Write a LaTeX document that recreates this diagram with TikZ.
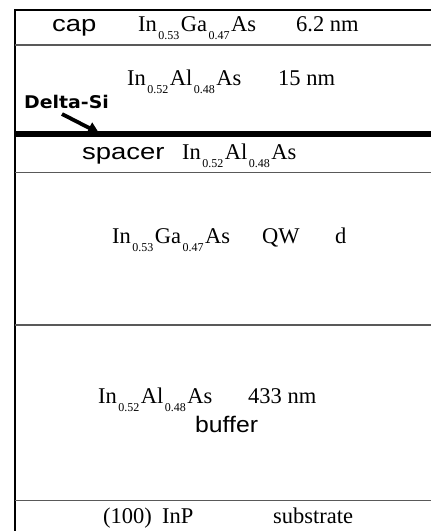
\documentclass[tikz,border=0pt]{standalone}
\usepackage{fontspec}
\setmainfont{Liberation Serif}
\setsansfont{Liberation Sans}
\newfontfamily\heavysans{DejaVu Sans}
\usetikzlibrary{arrows.meta}

% alloy subscript: small, dropped below the baseline
\newcommand\alsub[1]{\kern1.5pt\raisebox{-8pt}{\fontsize{12}{12}\selectfont #1}\kern1.5pt}
% wide sans label
\newcommand\widesans[1]{\scalebox{1.22}[1]{#1}}

\tikzset{
  serif/.style={font=\fontsize{22.5}{26}\selectfont, inner sep=0pt, anchor=base west},
  sans/.style={font=\sffamily\fontsize{22.5}{27}\selectfont, inner sep=0pt, anchor=base west},
  heavy/.style={line width=2.2pt, black},
  interface/.style={line width=1.2pt, black!65},
  dopant/.style={line width=6pt, black},
}

\begin{document}
\begin{tikzpicture}[x=1pt, y=-1pt]
  \useasboundingbox (0,0) rectangle (431,531);

  % outer frame: left edge and top surface
  \draw[heavy] (15,531) -- (15,10) -- (431,10);

  % layer interfaces
  \draw[interface] (15,45) -- (431,45);
  \draw[interface] (15,172.5) -- (431,172.5);
  \draw[interface] (15,325) -- (431,325);
  \draw[interface] (15,500.5) -- (431,500.5);

  % delta-doping sheet
  \draw[dopant] (15,133.5) -- (431,133.5);

  % cap layer
  \node[sans]  (capl)  at (52,31)  {\widesans{cap}};
  \node[serif] (capf)  at (138,31) {In\alsub{0.53}Ga\alsub{0.47}As};
  \node[serif] (capt)  at (296,31) {6.2 nm};

  % barrier layer
  \node[serif] (barf)  at (127,85) {In\alsub{0.52}Al\alsub{0.48}As};
  \node[serif] (bart)  at (278,85) {15 nm};

  % delta-Si label and arrow
  \node[inner sep=0pt, anchor=base west] (delta) at (24,108)
    {\scalebox{1.08}[1]{\heavysans\bfseries\fontsize{17.5}{20}\selectfont Delta-Si}};
  \coordinate (dtail) at (62,114);
  \coordinate (dtip)  at (99,133);
  \draw[line width=3.8pt, -{Triangle[length=11pt, width=12pt]}] (dtail) -- (dtip);

  % spacer layer
  \node[sans]  (spl)   at (82,159)  {\widesans{spacer}};
  \node[serif] (spf)   at (182,159) {In\alsub{0.52}Al\alsub{0.48}As};

  % quantum well
  \node[serif] (qwf)   at (112,243) {In\alsub{0.53}Ga\alsub{0.47}As};
  \node[serif] (qwl)   at (262,243) {QW};
  \node[serif] (qwd)   at (335,243) {d};

  % buffer layer
  \node[serif] (buff)  at (98,403)  {In\alsub{0.52}Al\alsub{0.48}As};
  \node[serif] (buft)  at (248,403) {433 nm};
  \node[sans]  (bufl)  at (195,432) {\scalebox{1.1}[1]{buffer}};

  % substrate
  \node[serif] (subf)  at (103,523) {(100)\hspace{0.45em}InP};
  \node[serif] (subl)  at (273,523) {substrate};
\end{tikzpicture}
\end{document}
